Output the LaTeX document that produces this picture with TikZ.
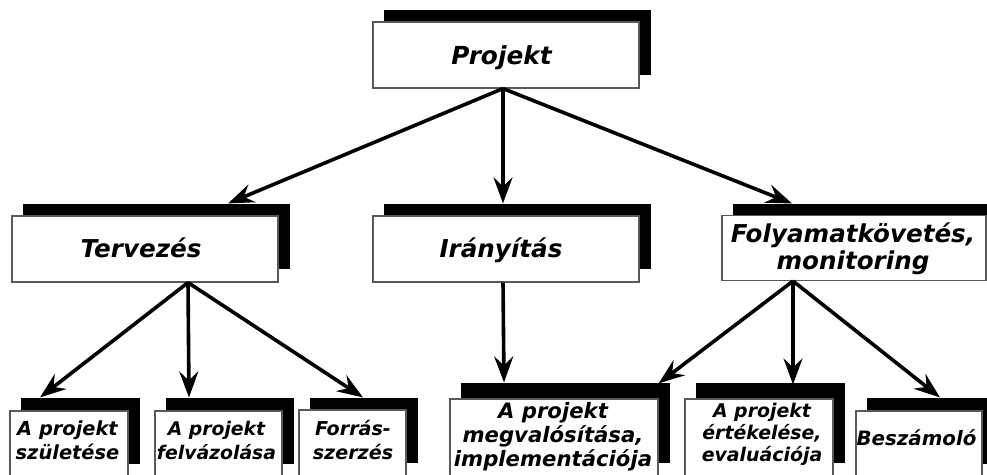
\documentclass[tikz,border=0pt]{standalone}
\usepackage{fontspec}
\setmainfont{DejaVu Sans}
\usetikzlibrary{arrows.meta,calc,backgrounds}

% black block behind a card, offset to the upper right
\newcommand\cardshade[2]{%
  \fill[black] ($(#1.south west)+(12,-14)$) rectangle ($(#1.north east)+(11,-#2)$);}
% bold oblique label face at a given size and line distance
\newcommand\lblface[2]{\fontsize{#1}{#2}\selectfont\bfseries\itshape}

\begin{document}
\begin{tikzpicture}[x=1pt,y=-1pt,
  card/.style={draw=black!65, line width=1.1pt, fill=white, inner sep=0pt},
  lbl/.style={align=center, inner sep=0pt, anchor=north},
  link/.style={line width=3.6pt, -{Stealth[length=26pt, width=19pt, inset=9pt]}}
]
\useasboundingbox (0,0) rectangle (987,474);

% top level
\node[card, minimum width=266pt, minimum height=66pt] (proj) at (506,55) {};
\node[lbl, font=\lblface{24.8}{25}] (proj-t) at (501.5,45.5) {\strut Projekt};

% second level
\node[card, minimum width=266pt, minimum height=66pt] (terv) at (145,249) {};
\node[lbl, font=\lblface{24.6}{25}] (terv-t) at (141,237.5) {\strut Tervezés};

\node[card, minimum width=266pt, minimum height=66pt] (iran) at (506,249) {};
\node[lbl, font=\lblface{24.6}{25}] (iran-t) at (501,237.5) {\strut Irányítás};

\node[card, minimum width=264pt, minimum height=65pt] (foly) at (854,248) {};
\node[lbl, font=\lblface{24.6}{25}] (foly-t) at (853,222.5) {\strut Folyamatkövetés,\\\strut monitoring};

% third level
\node[card, minimum width=118pt, minimum height=66pt] (b1) at (69,444) {};
\node[lbl, font=\lblface{19.4}{24}] (b1-t) at (67.5,418.2) {\strut A projekt\\\strut születése};

\node[card, minimum width=127pt, minimum height=66pt] (b2) at (218.5,444) {};
\node[lbl, font=\lblface{18.8}{24}] (b2-t) at (216.5,418.2) {\strut A projekt\\\strut felvázolása};

\node[card, minimum width=107pt, minimum height=66pt] (b3) at (352.5,443) {};
\node[lbl, font=\lblface{19.1}{24}] (b3-t) at (353,418.2) {\strut Forrás-\\\strut szerzés};

\node[card, minimum width=208pt, minimum height=77pt] (b4) at (554,437.5) {};
\node[lbl, font=\lblface{21.2}{20.8}] (b4-t) at (553,401.9) {\strut A projekt\\\strut megvalósítása,\\\strut implementációja};

\node[card, minimum width=148pt, minimum height=77pt] (b5) at (759,437.5) {};
\node[lbl, font=\lblface{18.9}{20.3}] (b5-t) at (762,402.8) {\strut A projekt\\\strut értékelése,\\\strut evaluációja};

\node[card, minimum width=126pt, minimum height=66pt] (b6) at (919,444) {};
\node[lbl, font=\lblface{19.8}{24}] (b6-t) at (916.5,428.2) {\strut Beszámoló};

% shadows and page fill underneath the cards
\begin{pgfonlayer}{background}
  \fill[white] (0,0) rectangle (987,474);
  \cardshade{proj}{11}
  \cardshade{terv}{11}
  \cardshade{iran}{11}
  \cardshade{foly}{11}
  \cardshade{b1}{12}
  \cardshade{b2}{12}
  \cardshade{b3}{11}
  \cardshade{b4}{15}
  \cardshade{b5}{15}
  \cardshade{b6}{12}
\end{pgfonlayer}

% connector ends
\coordinate (proj-out) at ($(proj.south)+(-3,0)$);
\coordinate (terv-in)  at ($(terv.north)+(83,-12)$);
\coordinate (iran-in)  at ($(iran.north)+(-3,-12)$);
\coordinate (foly-in)  at ($(foly.north)+(-62,-11.5)$);
\coordinate (terv-out) at ($(terv.south)+(43,0)$);
\coordinate (iran-out) at ($(iran.south)+(-3,0)$);
\coordinate (foly-out) at ($(foly.south)+(-61,0)$);
\coordinate (b1-in)  at ($(b1.north)+(-29,-13)$);
\coordinate (b2-in)  at ($(b2.north)+(-29.5,-13)$);
\coordinate (b3-in)  at ($(b3.north)+(10.5,-12)$);
\coordinate (b4-in)  at ($(b4.north)+(-50,-16)$);
\coordinate (b4-in2) at ($(b4.north east)+(0,-15)$);
\coordinate (b5-in)  at ($(b5.north)+(34,-14)$);
\coordinate (b6-in)  at ($(b6.north)+(21,-13)$);

% connectors
\draw[link] (proj-out) -- (terv-in);
\draw[link] (proj-out) -- (iran-in);
\draw[link] (proj-out) -- (foly-in);
\draw[link] (terv-out) -- (b1-in);
\draw[link] (terv-out) -- (b2-in);
\draw[link] (terv-out) -- (b3-in);
\draw[link] (iran-out) -- (b4-in);
\draw[link] (foly-out) -- (b4-in2);
\draw[link] (foly-out) -- (b5-in);
\draw[link] (foly-out) -- (b6-in);
\end{tikzpicture}
\end{document}
